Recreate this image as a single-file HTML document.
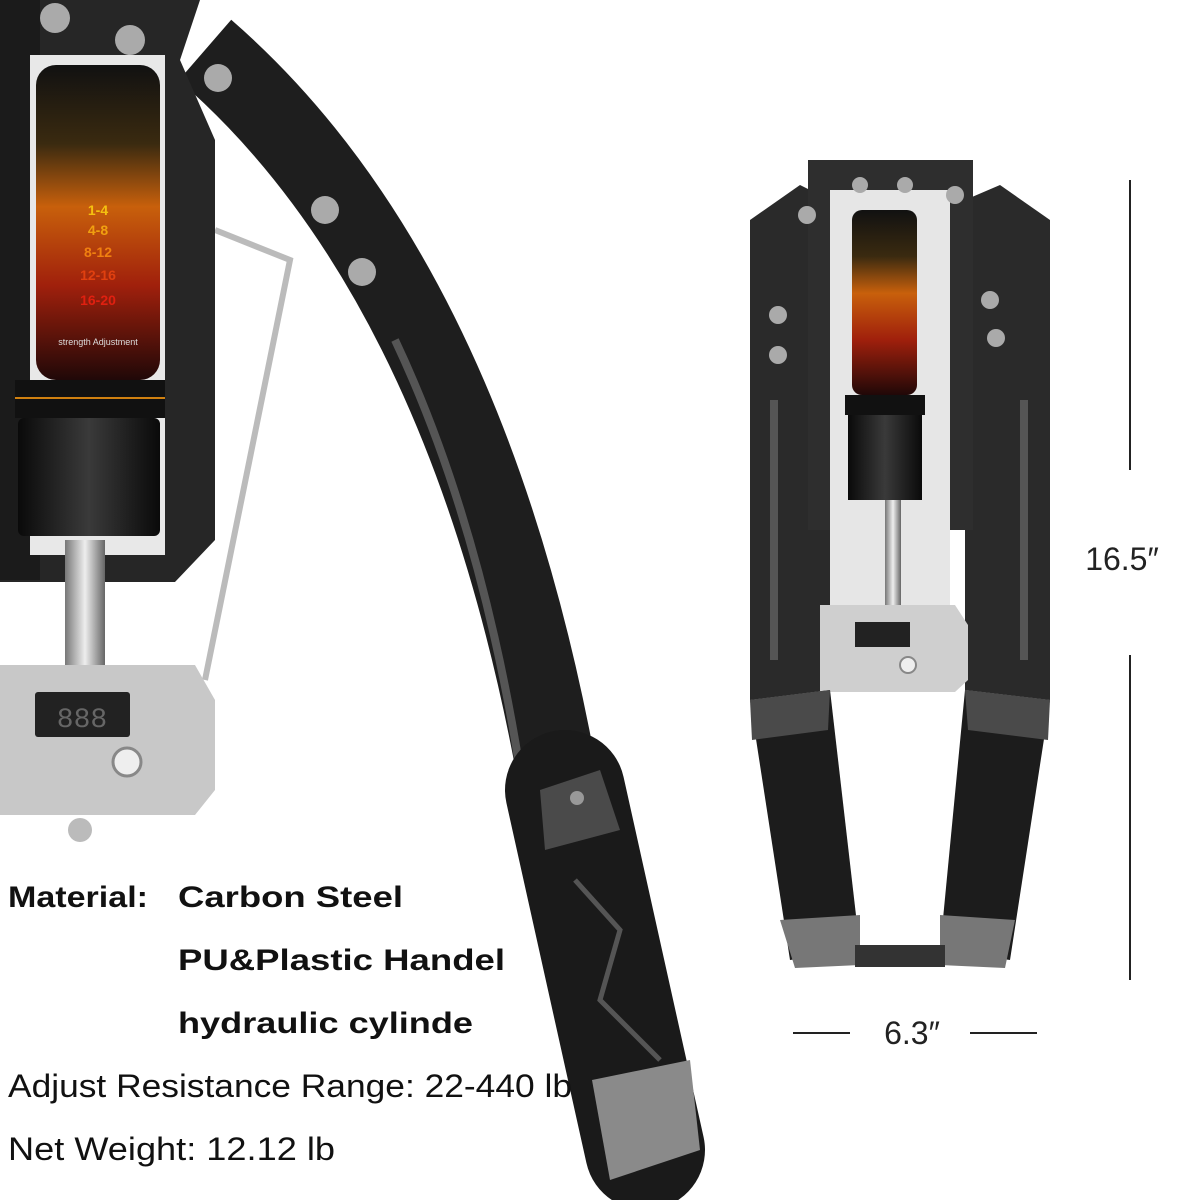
<!DOCTYPE html>
<html><head><meta charset="utf-8"><style>
html,body{margin:0;padding:0;background:#fff;}
svg{display:block}
</style></head><body>
<svg width="1200" height="1200" viewBox="0 0 1200 1200" xmlns="http://www.w3.org/2000/svg">
<defs>
<linearGradient id="lab" x1="0" y1="0" x2="0" y2="1">
<stop offset="0" stop-color="#111"/><stop offset="0.25" stop-color="#3a2a10"/>
<stop offset="0.45" stop-color="#c8600c"/><stop offset="0.7" stop-color="#a0200c"/><stop offset="1" stop-color="#200808"/>
</linearGradient>
<linearGradient id="knob" x1="0" y1="0" x2="1" y2="0">
<stop offset="0" stop-color="#0a0a0a"/><stop offset="0.5" stop-color="#3a3a3a"/><stop offset="1" stop-color="#0a0a0a"/>
</linearGradient>
<linearGradient id="rod" x1="0" y1="0" x2="1" y2="0">
<stop offset="0" stop-color="#777"/><stop offset="0.5" stop-color="#eee"/><stop offset="1" stop-color="#666"/>
</linearGradient>
</defs>

<path d="M 205 50 Q 470 280 560 790" stroke="#1e1e1e" stroke-width="80" fill="none"/>
<path d="M 395 340 Q 480 520 520 770" stroke="#555" stroke-width="8" fill="none"/>
<path d="M 215 230 L 290 260 L 205 680" stroke="#bbb" stroke-width="6" fill="none"/>
<path d="M 565 790 L 645 1150" stroke="#1a1a1a" stroke-width="120" stroke-linecap="round" fill="none"/>
<path d="M 540 790 L 600 770 L 620 830 L 545 850 Z" fill="#4a4a4a"/>
<path d="M 592 1080 L 690 1060 L 700 1150 L 610 1180 Z" fill="#8a8a8a"/>
<path d="M 575 880 L 620 930 L 600 1000 L 660 1060" stroke="#555" stroke-width="5" fill="none"/>
<circle cx="577" cy="798" r="7" fill="#999"/>

<path d="M 0 0 L 200 0 L 180 60 L 215 140 L 215 540 L 175 582 L 0 582 Z" fill="#262626"/>
<rect x="0" y="0" width="40" height="580" fill="#1b1b1b"/>
<rect x="30" y="55" width="135" height="500" fill="#e8e8e8"/>
<circle cx="55" cy="18" r="15" fill="#aaa"/><circle cx="130" cy="40" r="15" fill="#aaa"/>
<circle cx="218" cy="78" r="14" fill="#aaa"/><circle cx="325" cy="210" r="14" fill="#aaa"/><circle cx="362" cy="272" r="14" fill="#aaa"/>
<rect x="36" y="65" width="124" height="315" rx="20" fill="url(#lab)"/>
<text x="98" y="345" font-family="Liberation Sans" font-size="9" fill="#ddd" text-anchor="middle">strength Adjustment</text>
<text x="98" y="215" font-family="Liberation Sans" font-weight="bold" font-size="14" fill="#f5c010" text-anchor="middle">1-4</text>
<text x="98" y="235" font-family="Liberation Sans" font-weight="bold" font-size="14" fill="#f0a010" text-anchor="middle">4-8</text>
<text x="98" y="257" font-family="Liberation Sans" font-weight="bold" font-size="14" fill="#f08010" text-anchor="middle">8-12</text>
<text x="98" y="280" font-family="Liberation Sans" font-weight="bold" font-size="14" fill="#e04010" text-anchor="middle">12-16</text>
<text x="98" y="305" font-family="Liberation Sans" font-weight="bold" font-size="14" fill="#e02010" text-anchor="middle">16-20</text>
<rect x="15" y="380" width="150" height="38" fill="#111"/>
<line x1="15" y1="398" x2="165" y2="398" stroke="#d08010" stroke-width="2"/>
<rect x="18" y="418" width="142" height="118" rx="6" fill="url(#knob)"/>
<rect x="65" y="540" width="40" height="130" fill="url(#rod)"/>
<path d="M 0 665 L 195 665 L 215 700 L 215 790 L 195 815 L 0 815 Z" fill="#c8c8c8"/>
<rect x="35" y="692" width="95" height="45" rx="3" fill="#222"/>
<text x="82" y="727" font-family="Liberation Mono" font-size="28" fill="#666" text-anchor="middle">888</text>
<circle cx="127" cy="762" r="14" fill="#eee" stroke="#888" stroke-width="3"/>
<circle cx="80" cy="830" r="12" fill="#bbb"/>

<path d="M 750 220 L 800 185 L 830 200 L 830 690 L 750 700 Z" fill="#2a2a2a"/>
<path d="M 1050 220 L 1000 185 L 965 200 L 965 690 L 1050 700 Z" fill="#2a2a2a"/>
<rect x="808" y="160" width="165" height="370" fill="#2e2e2e"/>
<rect x="830" y="190" width="120" height="420" fill="#e6e6e6"/>
<rect x="852" y="210" width="65" height="185" rx="10" fill="url(#lab)"/>
<rect x="845" y="395" width="80" height="20" fill="#111"/>
<rect x="848" y="415" width="74" height="85" fill="url(#knob)"/>
<rect x="885" y="500" width="16" height="105" fill="url(#rod)"/>
<path d="M 820 605 L 955 605 L 968 625 L 968 680 L 955 692 L 820 692 Z" fill="#cfcfcf"/>
<rect x="855" y="622" width="55" height="25" fill="#222"/>
<circle cx="908" cy="665" r="8" fill="#eee" stroke="#888" stroke-width="2"/>
<rect x="770" y="400" width="8" height="260" fill="#555"/>
<rect x="1020" y="400" width="8" height="260" fill="#555"/>
<circle cx="807" cy="215" r="9" fill="#aaa"/><circle cx="778" cy="315" r="9" fill="#aaa"/><circle cx="778" cy="355" r="9" fill="#aaa"/>
<circle cx="990" cy="300" r="9" fill="#aaa"/><circle cx="996" cy="338" r="9" fill="#aaa"/><circle cx="955" cy="195" r="9" fill="#aaa"/>
<circle cx="860" cy="185" r="8" fill="#aaa"/><circle cx="905" cy="185" r="8" fill="#aaa"/>
<path d="M 750 700 L 830 690 L 860 950 L 790 960 Z" fill="#1c1c1c"/>
<path d="M 1050 700 L 965 690 L 940 950 L 1010 960 Z" fill="#1c1c1c"/>
<path d="M 750 700 L 830 690 L 828 730 L 752 740 Z" fill="#4a4a4a"/>
<path d="M 1050 700 L 965 690 L 968 730 L 1048 740 Z" fill="#4a4a4a"/>
<path d="M 780 920 L 860 915 L 860 965 L 795 968 Z" fill="#777"/>
<path d="M 1015 920 L 940 915 L 940 965 L 1005 968 Z" fill="#777"/>
<rect x="855" y="945" width="90" height="22" fill="#333"/>

<line x1="1130" y1="180" x2="1130" y2="470" stroke="#222" stroke-width="2"/>
<line x1="1130" y1="655" x2="1130" y2="980" stroke="#222" stroke-width="2"/>
<text x="1122" y="570" font-family="Liberation Sans" font-size="32" fill="#222" text-anchor="middle">16.5″</text>
<line x1="793" y1="1033" x2="850" y2="1033" stroke="#222" stroke-width="2"/>
<line x1="970" y1="1033" x2="1037" y2="1033" stroke="#222" stroke-width="2"/>
<text x="912" y="1044" font-family="Liberation Sans" font-size="32" fill="#222" text-anchor="middle">6.3″</text>

<g font-family="Liberation Sans" fill="#111">
<text x="8" y="907" font-size="30" font-weight="bold" textLength="140" lengthAdjust="spacingAndGlyphs">Material:</text>
<text x="178" y="907" font-size="30" font-weight="bold" textLength="225" lengthAdjust="spacingAndGlyphs">Carbon Steel</text>
<text x="178" y="970" font-size="30" font-weight="bold" textLength="327" lengthAdjust="spacingAndGlyphs">PU&amp;Plastic Handel</text>
<text x="178" y="1033" font-size="30" font-weight="bold" textLength="295" lengthAdjust="spacingAndGlyphs">hydraulic cylinde</text>
<text x="8" y="1097" font-size="32" textLength="564" lengthAdjust="spacingAndGlyphs">Adjust Resistance Range: 22-440 lb</text>
<text x="8" y="1160" font-size="32" textLength="327" lengthAdjust="spacingAndGlyphs">Net Weight: 12.12 lb</text>
</g>
</svg>
</body></html>
